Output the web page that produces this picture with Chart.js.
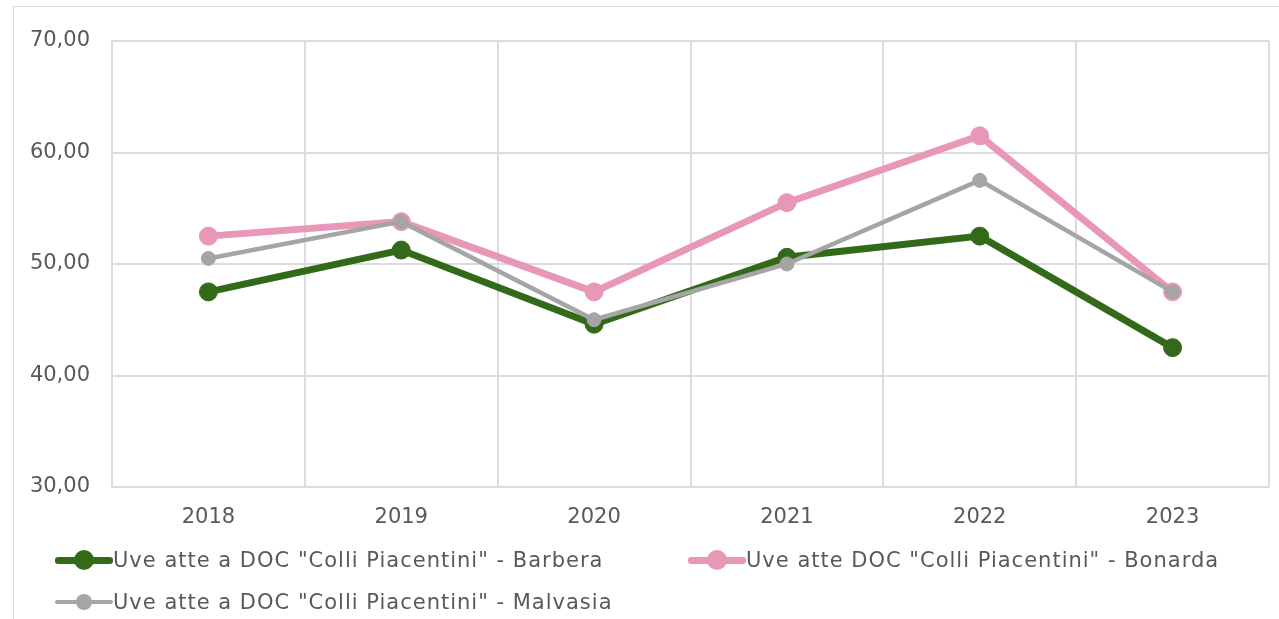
<!DOCTYPE html>
<html>
<head>
<meta charset="utf-8">
<script src="https://cdn.jsdelivr.net/npm/chart.js@4.4.1/dist/chart.umd.min.js"></script>
<style>
  body { margin: 0; background: #fff; font-family: "DejaVu Sans", sans-serif; }
  #wrap { position: relative; width: 1279px; height: 619px; overflow: hidden; }
  #frame { position: absolute; left: 13px; top: 6px; width: 1400px; height: 700px;
           border-left: 1px solid #d9d9d9; border-top: 1px solid #d9d9d9; }
  #myChart { position: absolute; left: 0; top: 0; }
  .legend { position: absolute; left: 0; top: 0; width: 1279px; height: 619px; pointer-events: none; }
  .item { position: absolute; display: flex; align-items: center; color: #595959; font-size: 21px;
          letter-spacing: 1px; white-space: nowrap; height: 22px; }
  .sym { position: relative; width: 58px; height: 22px; }
  .sym .ln { position: absolute; left: 0; right: 0; top: 50%; border-radius: 3px; }
  .sym .dot { position: absolute; left: 50%; top: 50%; border-radius: 50%; }
</style>
</head>
<body>
<div id="wrap">
  <div id="frame"></div>
  <canvas id="myChart" width="1279" height="619"></canvas>
  <div class="legend" id="legend"></div>
</div>
<script>
var years = ['2018', '2019', '2020', '2021', '2022', '2023'];
var barbera = [47.5, 51.25, 44.6, 50.6, 52.5, 42.5];
var bonarda = [52.5, 53.8, 47.5, 55.5, 61.5, 47.5];
var malvasia = [50.5, 53.8, 45.0, 50.0, 57.5, 47.5];
var yTicks = [30, 40, 50, 60, 70];

var seriesNames = [
    'Uve atte a DOC "Colli Piacentini" - Barbera',
    'Uve atte DOC "Colli Piacentini" - Bonarda',
    'Uve atte a DOC "Colli Piacentini" - Malvasia'
];

var ctx = document.getElementById('myChart').getContext('2d');
var chart = new Chart(ctx, {
    type: 'line',
    data: {
        labels: years,
        datasets: [{
                label: seriesNames[0],
                data: barbera,
                borderColor: '#336a1a',
                backgroundColor: '#336a1a',
                borderWidth: 7,
                pointRadius: 9,
                pointBorderWidth: 1,
                order: 2
            },
            {
                label: seriesNames[1],
                data: bonarda,
                borderColor: '#e897b9',
                backgroundColor: '#e897b9',
                borderWidth: 7,
                pointRadius: 9,
                pointBorderWidth: 1,
                order: 1
            },
            {
                label: seriesNames[2],
                data: malvasia,
                borderColor: '#a5a5a5',
                backgroundColor: '#a5a5a5',
                borderWidth: 4.5,
                pointRadius: 7,
                pointBorderWidth: 1,
                order: 0
            }
        ]
    },
    options: {
        responsive: false,
        animation: false,
        layout: {
            padding: { left: 12, right: 10, top: 41, bottom: 82 }
        },
        elements: {
            line: { tension: 0 }
        },
        plugins: {
            legend: { display: false },
            tooltip: { enabled: false }
        },
        scales: {
            x: {
                offset: true,
                grid: { offset: true, color: '#dcdcdc', lineWidth: 2, drawTicks: false },
                border: { color: '#dcdcdc', width: 2 },
                ticks: { color: '#595959', font: { family: 'DejaVu Sans', size: 21 }, padding: 18, maxRotation: 0 },
                afterFit: function(s) { s.height = 50; }
            },
            y: {
                min: 30,
                max: 70,
                afterBuildTicks: function(s) { s.ticks = yTicks.map(function(v) { return { value: v }; }); },
                grid: { color: '#dcdcdc', lineWidth: 2, drawTicks: false },
                border: { color: '#dcdcdc', width: 2 },
                ticks: {
                    color: '#595959',
                    font: { family: 'DejaVu Sans', size: 21 },
                    padding: 22,
                    callback: function(v) { return v.toFixed(2).replace('.', ','); }
                },
                afterFit: function(s) { s.width = 100; }
            }
        }
    }
});

// legend, built from the datasets
var legendPos = [[55, 560], [688, 560], [55, 602]];
var legend = document.getElementById('legend');
chart.data.datasets.forEach(function(ds, i) {
    var item = document.createElement('div');
    item.className = 'item';
    item.style.left = legendPos[i][0] + 'px';
    item.style.top = (legendPos[i][1] - 11) + 'px';
    var lw = ds.borderWidth, r = ds.pointRadius + 1;
    item.innerHTML = '<div class="sym"><div class="ln" style="height:' + lw + 'px;margin-top:' + (-lw / 2) +
        'px;background:' + ds.borderColor + '"></div><div class="dot" style="width:' + (2 * r) + 'px;height:' + (2 * r) +
        'px;margin-left:' + (-r) + 'px;margin-top:' + (-r) + 'px;background:' + ds.borderColor + '"></div></div>' +
        '<span>' + ds.label + '</span>';
    legend.appendChild(item);
});
</script>
</body>
</html>
